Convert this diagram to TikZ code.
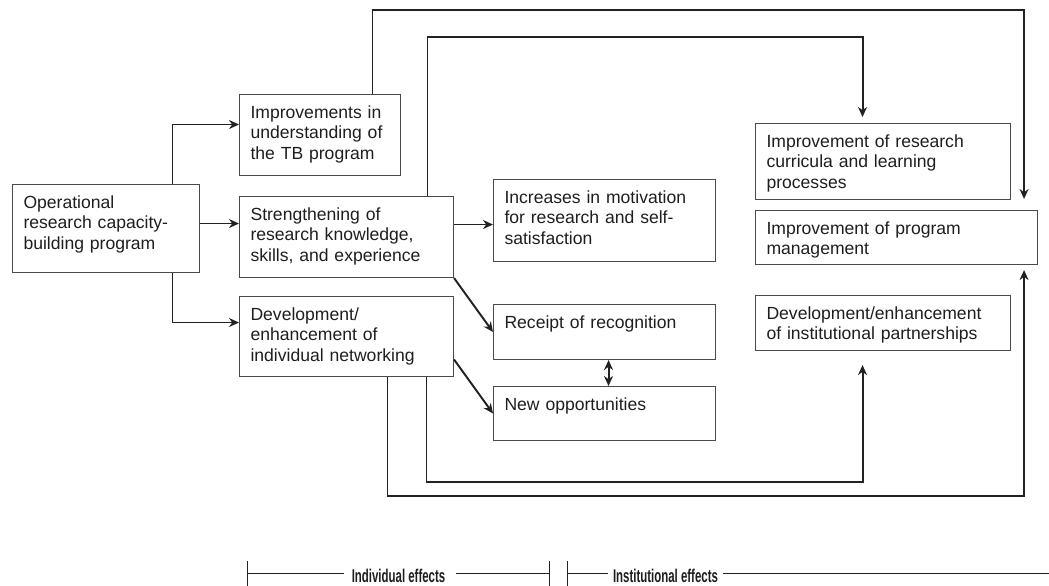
\documentclass[tikz,border=0pt]{standalone}
\usepackage{fontspec}
\setmainfont{Liberation Sans}
\usetikzlibrary{arrows.meta}
\definecolor{boxedge}{HTML}{4a4a4a}
\definecolor{flowline}{HTML}{222222}
\definecolor{txtdark}{HTML}{1e1e1e}

\begin{document}
\begin{tikzpicture}[
    font=\fontsize{10}{11.8}\selectfont, text=txtdark,
    box/.style 2 args={rectangle, draw=boxedge, line width=0.6pt, anchor=north west, align=left, inner xsep=0.22cm, inner ysep=0pt, text height=0.47cm, text width=#1, text depth=#2},
    fl/.style={-{Stealth[length=2mm, width=1.8mm]}, line width=1.1pt, draw=flowline},
    dfl/.style={{Stealth[length=2mm, width=1.8mm]}-{Stealth[length=2mm, width=1.8mm]}, line width=1.1pt, draw=flowline},
    brk/.style={line width=0.55pt, draw=flowline},
    eff/.style={font=\fontsize{10.5}{12}\selectfont\bfseries, anchor=base, inner sep=0pt}
  ]
  \useasboundingbox (0,0) rectangle (20.98,-11.72);

  \node[box={3.30cm}{1.29cm}] (op)  at (0.24, -3.68) {Operational\\research capacity-\\building program};
  \node[box={2.78cm}{1.15cm}] (imp) at (4.78, -1.88) {Improvements in\\understanding of\\the TB program};
  \node[box={3.84cm}{1.15cm}] (str) at (4.78, -3.92) {Strengthening of\\research knowledge,\\skills, and experience};
  \node[box={3.84cm}{1.13cm}] (dev) at (4.78, -5.92) {Development/\\enhancement of\\individual networking};

  \node[box={4.00cm}{1.17cm}] (mot) at (9.86, -3.58) {Increases in motivation\\for research and self-\\satisfaction};
  \node[box={4.00cm}{0.63cm}] (rec) at (9.86, -6.08) {Receipt of recognition};
  \node[box={4.00cm}{0.61cm}] (opp) at (9.86, -7.72) {New opportunities};

  \node[box={4.66cm}{1.05cm}] (cur) at (15.10, -2.46) {Improvement of research\\curricula and learning\\processes};
  \node[box={5.20cm}{0.61cm}] (mgt) at (15.10, -4.20) {Improvement of program\\management};
  \node[box={4.66cm}{0.63cm}] (prt) at (15.10, -5.90) {Development/enhancement\\of institutional partnerships};

  \draw[fl] ([xshift=1.33cm]op.north) |- ([yshift=0.21cm]imp.west);
  \draw[fl] ([yshift=0.10cm]op.east) -- ([yshift=0.10cm]op.east -| str.west);
  \draw[fl] ([xshift=1.33cm]op.south) |- ([yshift=0.28cm]dev.west);

  \draw[fl] ([yshift=0.25cm]str.east) -- ([yshift=0.25cm]str.east -| mot.west);
  \draw[fl] (str.south east) -- (rec.west);
  \draw[fl] ([yshift=-0.46cm]dev.east) -- (opp.west);
  \draw[dfl] ([xshift=0.08cm]rec.south) -- ([xshift=0.08cm]opp.north);

  \draw[fl] ([xshift=1.05cm]imp.north) -- ++(0,1.68) -| ([xshift=-0.28cm,yshift=0.22cm]mgt.north east);
  \draw[fl] ([xshift=1.62cm]str.north) -- ++(0,3.18) -| ([xshift=-0.41cm,yshift=0.12cm]cur.north);
  \draw[fl] ([xshift=1.60cm]dev.south) -- ++(0,-2.10) -| ([xshift=-0.41cm,yshift=-0.28cm]prt.south);
  \draw[fl] ([xshift=0.82cm]dev.south) -- ++(0,-2.38) -| ([xshift=-0.28cm,yshift=-0.10cm]mgt.south east);

  % effect brackets
  \node[eff] (ind) at (7.97, -11.64) {\scalebox{0.62}[1]{Individual effects}};
  \node[eff] (ins) at (13.31, -11.64) {\scalebox{0.62}[1]{Institutional effects}};
  \coordinate (il) at (4.94, -11.46);
  \coordinate (ir) at (10.98, -11.46);
  \coordinate (nl) at (11.34, -11.46);
  \coordinate (nr) at (20.98, -11.46);

  \draw[brk] ([yshift=0.24cm]il) -- ([yshift=-0.30cm]il);
  \draw[brk] ([yshift=0.24cm]ir) -- ([yshift=-0.30cm]ir);
  \draw[brk] ([yshift=0.24cm]nl) -- ([yshift=-0.30cm]nl);
  \draw[brk] (il) -- ([xshift=-0.14cm]il -| ind.west);
  \draw[brk] ([xshift=0.2cm]il -| ind.east) -- (ir);
  \draw[brk] (nl) -- ([xshift=-0.1cm]nl -| ins.west);
  \draw[brk] ([xshift=0.1cm]nl -| ins.east) -- (nr);
\end{tikzpicture}
\end{document}
